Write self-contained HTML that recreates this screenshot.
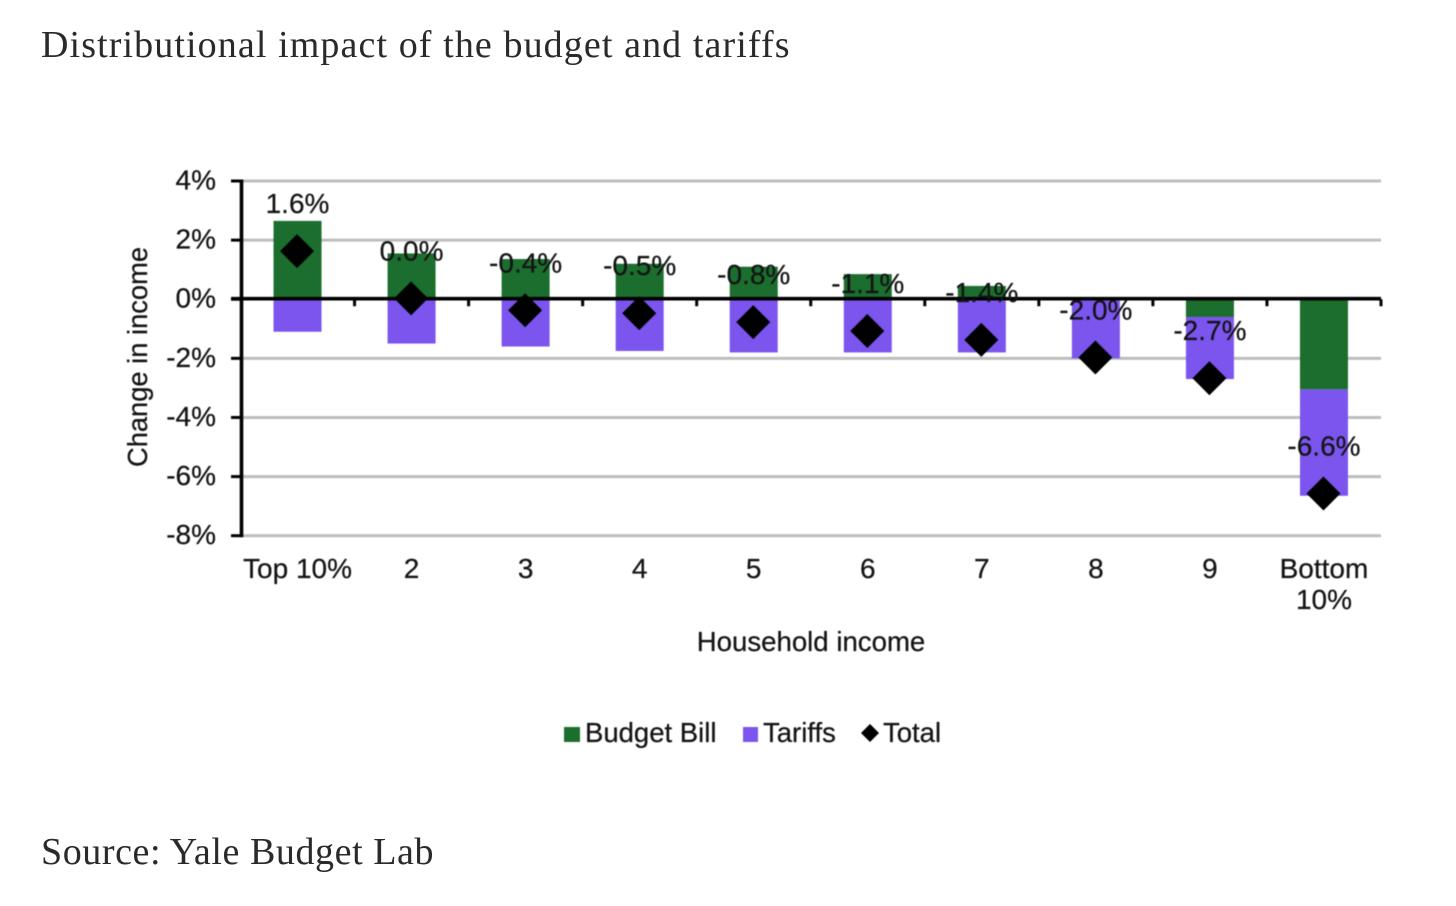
<!DOCTYPE html>
<html lang="en">
<head>
<meta charset="utf-8">
<title>Distributional impact of the budget and tariffs</title>
<style>
  html, body { margin: 0; padding: 0; background: #fff; width: 1456px; height: 906px; overflow: hidden; }
  svg { display: block; position: absolute; left: 0; top: 0; }
  .serif { font-family: "Liberation Serif", serif; fill: #2a2a2a; font-size: 38px; }
  .sans { font-family: "Liberation Sans", sans-serif; fill: #141414; font-size: 28px; stroke: #141414; stroke-width: 0.25px; }
</style>
</head>
<body>
<svg id="chart" width="1456" height="906" viewBox="0 0 1456 906">
  <text class="serif" x="41" y="57" style="letter-spacing:1.1px">Distributional impact of the budget and tariffs</text>
  <text class="serif" x="41" y="864" style="letter-spacing:0.57px">Source: Yale Budget Lab</text>
  <g id="plot" style="filter: blur(0.45px)"></g>
  <g style="filter: blur(0.45px)">
    <text class="sans" x="811" y="651" text-anchor="middle" style="font-size:27.6px">Household income</text>
    <text class="sans" transform="translate(147,357) rotate(-90)" text-anchor="middle" style="font-size:27.3px">Change in income</text>
    <g>
      <g>
        <rect x="564" y="727" width="16" height="15" fill="#1b6e2e"></rect>
        <text class="sans" x="585" y="742" style="font-size:27.5px">Budget Bill</text>
      </g>
      <g>
        <rect x="743" y="727" width="15" height="15" fill="#7b55ee"></rect>
        <text class="sans" x="763" y="742" style="font-size:27.5px">Tariffs</text>
      </g>
      <g>
        <polygon points="870,724 879,733 870,742 861,733" fill="#000"></polygon>
        <text class="sans" x="883" y="742" style="font-size:27.5px">Total</text>
      </g>
    </g>
  </g>
</svg>
<script>
const categories = [["Top 10%"], ["2"], ["3"], ["4"], ["5"], ["6"], ["7"], ["8"], ["9"], ["Bottom", "10%"]];
const budgetBill = [2.65, 1.55, 1.36, 1.2, 1.1, 0.85, 0.45, 0, -0.6, -3.05];
const tariffs = [-1.1, -1.5, -1.6, -1.75, -1.8, -1.8, -1.8, -2.0, -2.1, -3.6];
const total = [1.6, 0.0, -0.4, -0.5, -0.8, -1.1, -1.4, -2.0, -2.7, -6.6];
const totalLabels = ["1.6%", "0.0%", "-0.4%", "-0.5%", "-0.8%", "-1.1%", "-1.4%", "-2.0%", "-2.7%", "-6.6%"];
const yTicks = [4, 2, 0, -2, -4, -6, -8];
const yTickLabels = ["4%", "2%", "0%", "-2%", "-4%", "-6%", "-8%"];

const SVGNS = "http://www.w3.org/2000/svg";
const plot = document.getElementById("plot");
const left = 240.5, right = 1381, yTop = 181, yBottom = 535.7, yMax = 4, yMin = -8;
const step = (right - left) / categories.length;
const barW = 48, diamond = 17;

function xCenter(i) { return left + step * (i + 0.5); }
function yScale(v) { return yTop + (yMax - v) / (yMax - yMin) * (yBottom - yTop); }
function make(tag, attrs) {
  const el = document.createElementNS(SVGNS, tag);
  for (const k in attrs) el.setAttribute(k, attrs[k]);
  plot.appendChild(el);
  return el;
}

yTicks.forEach(function (v, i) {
  if (v !== 0) {
    const grid = make("line", { x1: left, x2: right, y1: yScale(v), y2: yScale(v), stroke: "#bdbdbd", "stroke-width": 3 });
    
    
  }
  const tick = make("line", { x1: 231, x2: left, y1: yScale(v), y2: yScale(v), stroke: "#000", "stroke-width": 3 });
  
  
  const label = make("text", { x: 216, y: yScale(v) + 8.5, "text-anchor": "end", class: "sans" });
  label.textContent = yTickLabels[i];
  
  
});

categories.forEach(function (lines, i) {
  const cx = xCenter(i);
  let posBase = 0, negBase = 0;
  [[budgetBill[i], "#1b6e2e", "budget-bill"], [tariffs[i], "#7b55ee", "tariffs"]].forEach(function (s) {
    const v = s[0];
    if (v === 0) return;
    const from = v > 0 ? posBase : negBase;
    const to = from + v;
    if (v > 0) posBase = to; else negBase = to;
    const bar = make("rect", {
      x: cx - barW / 2,
      y: Math.min(yScale(from), yScale(to)),
      width: barW,
      height: Math.abs(yScale(to) - yScale(from)),
      fill: s[1]
    });
    
    
  });
});

const zeroAxis = make("line", { x1: 231, x2: right, y1: yScale(0) - 0.5, y2: yScale(0) - 0.5, stroke: "#000", "stroke-width": 3.6 });


const yAxis = make("line", { x1: left + 1, x2: left + 1, y1: yTop - 1.5, y2: yBottom + 1.5, stroke: "#000", "stroke-width": 3.6 });



for (let k = 1; k <= categories.length; k++) {
  const tx = left + step * k;
  const xTick = make("line", { x1: tx, x2: tx, y1: yScale(0), y2: yScale(0) + 7, stroke: "#000", "stroke-width": 3 });
  
  
}

categories.forEach(function (lines, i) {
  const cx = xCenter(i) - 0.5, cy = yScale(total[i]) - 0.8;
  const d = make("polygon", {
    points: [[cx, cy - diamond], [cx + diamond, cy], [cx, cy + diamond], [cx - diamond, cy]].map(function (p) { return p.join(","); }).join(" "),
    fill: "#000"
  });
  
  
  const val = make("text", { x: cx + 0.5, y: cy - 38, "text-anchor": "middle", class: "sans" });
  val.textContent = totalLabels[i];
  
  
  lines.forEach(function (line, j) {
    const cat = make("text", { x: cx + 0.5, y: 578 + j * 31, "text-anchor": "middle", class: "sans" });
    cat.textContent = line;
    
    
  });
});
</script>
</body>
</html>
